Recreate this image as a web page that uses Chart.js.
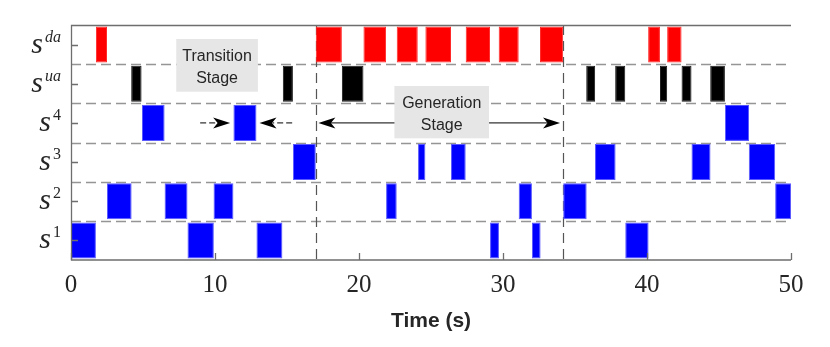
<!DOCTYPE html>
<html><head><meta charset="utf-8">
<script src="https://cdn.jsdelivr.net/npm/chart.js@4.4.1/dist/chart.umd.min.js"></script>
<style>html,body{margin:0;padding:0;background:#fff;}#wrap{width:830px;height:347px;}</style>
</head><body><div id="wrap"><canvas id="c" width="830" height="347"></canvas></div>
<script>
// ---- data ----
const rowKeys = ['da','ua','4','3','2','1'];
const xTicks = [0,10,20,30,40,50];
const sdaIntervals = [[1.73,2.50],[17.0,18.81],[20.31,21.88],[22.62,24.08],[24.61,26.39],[27.41,29.10],[29.70,31.09],[32.57,34.18],[40.08,40.90],[41.40,42.40]];
const suaIntervals = [[4.18,4.90],[14.71,15.41],[18.81,20.31],[35.78,36.40],[37.79,38.49],[40.90,41.40],[42.40,43.09],[44.39,45.41]];
const s4Intervals = [[4.93,6.50],[11.28,12.88],[45.41,47.09]];
const s3Intervals = [[15.41,17.0],[24.10,24.61],[26.39,27.41],[36.39,37.82],[43.09,44.41],[47.07,48.90]];
const s2Intervals = [[2.50,4.21],[6.50,8.09],[9.90,11.28],[21.88,22.62],[31.09,32.01],[34.18,35.81],[48.90,50.0]];
const s1Intervals = [[0.0,1.73],[8.09,9.92],[12.88,14.68],[29.10,29.72],[32.01,32.61],[38.49,40.11]];
const stageBounds = [17.0, 34.2];
const transitionArrowL = [8.97, 11.05];
const transitionArrowR = [15.36, 13.09];
const generationArrow = [17.18, 33.96];
const transitionBox = {x:[7.31,12.98], y:[-0.143,1.203], lines:['Transition','Stage']};
const generationBox = {x:[22.46,29.03], y:[1.057,2.393], lines:['Generation','Stage']};

const rowData = [sdaIntervals, suaIntervals, s4Intervals, s3Intervals, s2Intervals, s1Intervals];
const rowColors = ['#ff0000','#000000','#0000ff','#0000ff','#0000ff','#0000ff'];
const rowBorders = ['#ff2a2a','#1a1a1a','#5a5aff','#5a5aff','#5a5aff','#5a5aff'];

const datasets = rowData.map((ivs, r) => ({
  data: ivs.map(iv => ({x: iv, y: rowKeys[r]})),
  backgroundColor: rowColors[r],
  borderColor: rowBorders[r],
  borderWidth: 1,
  borderSkipped: false,
  grouped: false,
  barPercentage: 0.92,
  categoryPercentage: 1.0
}));

function arrowHead(ctx, tipX, y, dir){
  const L = 17, H = 5.5, N = 12.5;
  ctx.beginPath();
  ctx.moveTo(tipX, y);
  ctx.lineTo(tipX - dir*L, y - H);
  ctx.lineTo(tipX - dir*N, y);
  ctx.lineTo(tipX - dir*L, y + H);
  ctx.closePath();
  ctx.fill();
}

const deco = {
  id: 'deco',
  beforeDatasetsDraw(chart){
    const ctx = chart.ctx, ca = chart.chartArea;
    const xs = chart.scales.x, ys = chart.scales.y;
    ctx.save();
    ctx.strokeStyle = '#959595';
    ctx.lineWidth = 1.5;
    ctx.setLineDash([10,5]);
    for (let i = 1; i < rowKeys.length; i++){
      const y = Math.round(ys.getPixelForValue(i - 0.5)) + 0.5;
      ctx.beginPath(); ctx.moveTo(ca.left, y); ctx.lineTo(ca.right - 4, y); ctx.stroke();
    }
    ctx.strokeStyle = '#555';
    ctx.lineWidth = 1.2;
    ctx.setLineDash([10,6]);
    stageBounds.forEach(v => {
      const x = Math.round(xs.getPixelForValue(v)) + 0.5;
      ctx.beginPath(); ctx.moveTo(x, ca.top); ctx.lineTo(x, ca.bottom); ctx.stroke();
    });
    ctx.restore();
  },
  afterDatasetsDraw(chart){
    const ctx = chart.ctx, ca = chart.chartArea;
    const xs = chart.scales.x, ys = chart.scales.y;
    ctx.save();
    // arrows
    const ay = ys.getPixelForValue(2);
    ctx.fillStyle = '#000'; ctx.strokeStyle = '#000'; ctx.lineWidth = 1;
    ctx.setLineDash([6,3]);
    let x0 = xs.getPixelForValue(transitionArrowL[0]), x1 = xs.getPixelForValue(transitionArrowL[1]);
    ctx.beginPath(); ctx.moveTo(x0, ay); ctx.lineTo(x1 - 13, ay); ctx.stroke();
    x0 = xs.getPixelForValue(transitionArrowR[0]); x1 = xs.getPixelForValue(transitionArrowR[1]);
    ctx.beginPath(); ctx.moveTo(x0, ay); ctx.lineTo(x1 + 13, ay); ctx.stroke();
    ctx.setLineDash([]);
    arrowHead(ctx, xs.getPixelForValue(transitionArrowL[1]), ay, 1);
    arrowHead(ctx, xs.getPixelForValue(transitionArrowR[1]), ay, -1);
    const g0 = xs.getPixelForValue(generationArrow[0]), g1 = xs.getPixelForValue(generationArrow[1]);
    ctx.beginPath(); ctx.moveTo(g0 + 12, ay); ctx.lineTo(g1 - 12, ay); ctx.stroke();
    arrowHead(ctx, g0, ay, -1);
    arrowHead(ctx, g1, ay, 1);
    // boxes
    [transitionBox, generationBox].forEach(b => {
      const bx0 = xs.getPixelForValue(b.x[0]), bx1 = xs.getPixelForValue(b.x[1]);
      const by0 = ys.getPixelForValue(b.y[0]), by1 = ys.getPixelForValue(b.y[1]);
      ctx.fillStyle = '#e6e6e6';
      ctx.fillRect(bx0, by0, bx1 - bx0, by1 - by0);
      ctx.fillStyle = '#262626';
      ctx.font = '16px "Liberation Sans", Arial, sans-serif';
      ctx.textAlign = 'center'; ctx.textBaseline = 'alphabetic';
      const cx = (bx0 + bx1) / 2;
      ctx.fillText(b.lines[0], cx, by0 + 22.5);
      ctx.fillText(b.lines[1], cx, by0 + 44);
    });
    // axes
    ctx.strokeStyle = '#6e6e6e'; ctx.lineWidth = 1.3;
    ctx.beginPath();
    ctx.moveTo(ca.right, ca.top + 0.5); ctx.lineTo(ca.left + 0.5, ca.top + 0.5);
    ctx.lineTo(ca.left + 0.5, ca.bottom); ctx.lineTo(ca.right, ca.bottom);
    ctx.stroke();
    ctx.beginPath();
    xTicks.forEach(v => {
      const x = Math.round(xs.getPixelForValue(v)) + 0.5;
      ctx.moveTo(x, ca.bottom); ctx.lineTo(x, ca.bottom - 7);
    });
    rowKeys.forEach((k, i) => {
      const y = Math.round(ys.getPixelForValue(i)) + 0.5;
      ctx.moveTo(ca.left, y); ctx.lineTo(ca.left + 7, y);
    });
    ctx.stroke();
    // y labels
    ctx.fillStyle = '#262626';
    ctx.textBaseline = 'alphabetic'; ctx.textAlign = 'left';
    rowKeys.forEach((k, i) => {
      const cy = ys.getPixelForValue(i);
      const baseFont = 'italic 30px "Liberation Serif", serif';
      const supFont = (/\d/.test(k) ? '' : 'italic ') + '16px "Liberation Serif", serif';
      ctx.font = baseFont; const wb = ctx.measureText('s').width;
      ctx.font = supFont; const ws = ctx.measureText(k).width;
      const right = 61;
      const xStart = right - ws - wb - 2;
      ctx.font = baseFont; ctx.fillText('s', xStart, cy + 8);
      ctx.font = supFont; ctx.fillText(k, xStart + wb + 2, cy - 3);
    });
    // x title
    ctx.font = 'bold 21px "Liberation Sans", Arial, sans-serif';
    ctx.textAlign = 'center'; ctx.textBaseline = 'middle';
    ctx.fillText('Time (s)', (ca.left + ca.right) / 2, 321);
    ctx.restore();
  }
};

new Chart(document.getElementById('c'), {
  type: 'bar',
  data: { labels: rowKeys, datasets },
  options: {
    indexAxis: 'y',
    responsive: false,
    animation: false,
    devicePixelRatio: 1,
    layout: { padding: { top: 25, right: 39, left: 0, bottom: 0 } },
    plugins: { legend: { display: false }, tooltip: { enabled: false } },
    scales: {
      x: {
        type: 'linear', position: 'bottom', min: 0, max: 50,
        afterFit(s){ s.height = 87; },
        afterBuildTicks(s){ s.ticks = xTicks.map(v => ({ value: v })); },
        ticks: { font: { family: '"Liberation Serif", serif', size: 25 }, color: '#262626', padding: 10, maxRotation: 0, autoSkip: false },
        grid: { display: false, drawTicks: false },
        border: { display: false }
      },
      y: {
        type: 'category', labels: rowKeys, offset: true,
        afterFit(s){ s.width = 71; },
        ticks: { display: false },
        grid: { display: false, drawTicks: false },
        border: { display: false }
      }
    }
  },
  plugins: [deco]
});
</script></body></html>
